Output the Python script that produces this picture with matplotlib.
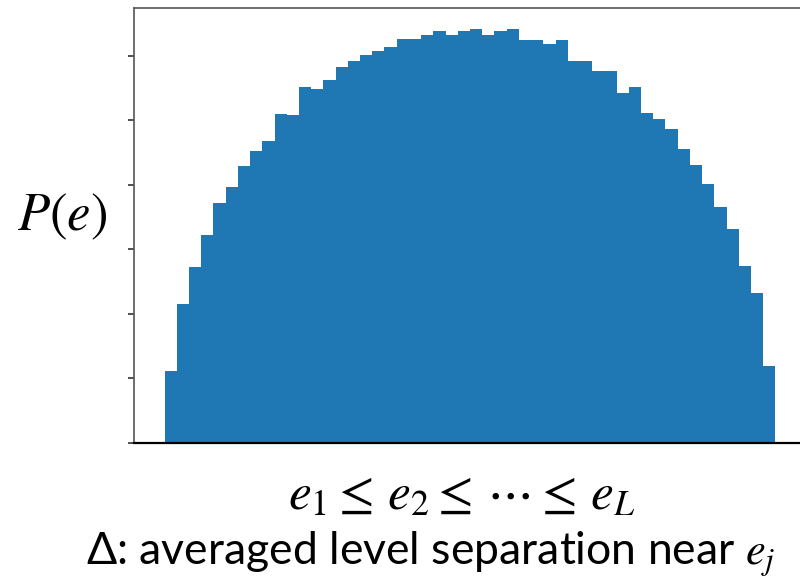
import numpy as np
import matplotlib.pyplot as plt

plt.rcParams['mathtext.fontset'] = 'stix'

# histogram of levels: 50 bins on [-2, 2], density
bin_edges = np.linspace(-2, 2, 51)
density = [
    0.056, 0.108, 0.136, 0.161, 0.186, 0.198, 0.215, 0.226, 0.234, 0.255,
    0.254, 0.276, 0.274, 0.281, 0.291, 0.296, 0.301, 0.304, 0.307, 0.313,
    0.313, 0.3165, 0.319, 0.3165, 0.319, 0.321, 0.3165, 0.319, 0.321, 0.312,
    0.312, 0.309, 0.312, 0.296, 0.296, 0.288, 0.288, 0.271, 0.276, 0.2556,
    0.251, 0.243, 0.228, 0.2155, 0.201, 0.183, 0.166, 0.137, 0.116, 0.060,
]
ytick_vals = [0.0, 0.05, 0.10, 0.15, 0.20, 0.25, 0.30]

fig = plt.figure(figsize=(8, 5.77), dpi=100)
ax = fig.add_axes([0.1675, 0.2322, 0.84, 0.7539])

ax.bar(bin_edges[:-1], density, width=np.diff(bin_edges), align='edge',
       color='#1f77b4', linewidth=0)

ax.set_xticks([])
ax.set_yticks(ytick_vals)
ax.set_yticklabels([])
ax.tick_params(axis='y', length=4, width=1.2, color='#333333')
for s in ax.spines.values():
    s.set_color('#555555')
    s.set_linewidth(1.2)
ax.spines['bottom'].set_color('black')
ax.spines['bottom'].set_linewidth(1.6)

fig.text(0.078, 0.626, r'$P(e)$', fontsize=38, ha='center', va='center')
fig.text(0.577, 0.118, r'$e_1 \leq\, e_2 \leq\, \cdots \leq\, e_L$',
         fontsize=37, ha='center', va='baseline')
fig.text(0.538, 0.022, r'Δ: averaged level separation near $e_j$', fontsize=32,
         ha='center', va='baseline', family=['Lato', 'DejaVu Sans'])

fig.savefig('out.png', dpi=100)
